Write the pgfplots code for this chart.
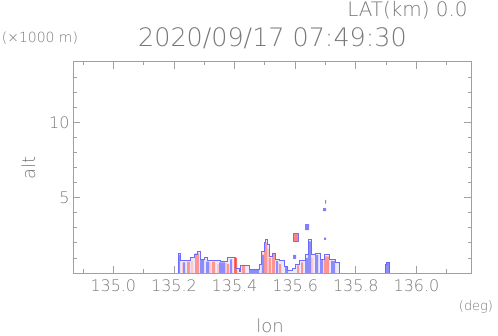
\documentclass[border=0pt]{standalone}
\usepackage{pgfplots}
\pgfplotsset{compat=1.18}
\usepackage{fontspec}
\setmainfont{DejaVu Sans ExtraLight}
\definecolor{txt}{RGB}{120,120,120}
\definecolor{axl}{RGB}{160,160,160}
\begin{document}
\begin{tikzpicture}
\path[use as bounding box] (0bp,0bp) rectangle (498bp,336bp);
\begin{axis}[at={(73bp,63bp)}, anchor=south west, scale only axis,
  width=398bp, height=211bp,
  xmin=134.867, xmax=136.180, ymin=0, ymax=14,
  xtick={135.0,135.2,135.4,135.6,135.8,136.0},
  minor xtick={134.9,135.1,135.3,135.5,135.7,135.9,136.1},
  ytick={5,10},
  minor ytick={1,2,3,4,6,7,8,9,11,12,13},
  xticklabel style={/pgf/number format/fixed, /pgf/number format/fixed zerofill, /pgf/number format/precision=1, yshift=-3bp},
  /pgf/number format/assume math mode=true,
  ticklabel style={font=\fontsize{16}{16}\selectfont, text=txt},
  tick align=inside,
  major tick length=7bp, minor tick length=3.5bp,
  tick style={axl, line width=0.8bp},
  axis line style={axl, line width=1bp},
  clip=true,
]
% envelope fill
\addplot[const plot, fill=blue!8, draw=none] coordinates {
(135.2135,0)(135.2135,1.33)(135.2201,0.8)(135.2531,1.0)(135.2663,1.2)(135.2762,1.45)
(135.2861,0.9)(135.2993,1.0)(135.3092,0.8)(135.3521,0.75)(135.3752,1.0)(135.3851,1.05)
(135.4017,0.33)(135.4149,0.1)(135.4182,0.5)(135.4479,0.22)(135.4809,0.55)(135.4875,1.45)
(135.4974,2.0)(135.5007,2.2)(135.5073,1.9)(135.5139,1.1)(135.5238,1.33)(135.5337,0.9)
(135.5469,0.8)(135.5634,0.45)(135.5733,0.2)(135.5898,0.3)(135.5997,0.55)(135.6129,0.8)
(135.6327,1.2)(135.6426,2.2)(135.6525,1.2)(135.6657,1.3)(135.6822,0.9)(135.6954,1.2)
(135.7119,0.9)(135.7317,0.7)(135.7449,0)} \closedcycle;
% light red stripes
\addplot[const plot, fill=red!22, draw=none] coordinates {
(135.2267,0.7)(135.2300,0)(135.2564,0.8)(135.2630,0)(135.3158,0.7)(135.3224,0)
(135.3422,0.6)(135.3488,0)(135.3686,0.65)(135.3752,0)(135.4875,1.3)(135.4941,0)
(135.5073,1.6)(135.5139,0)(135.5370,0.7)(135.5436,0)(135.6525,1.0)(135.6591,0)
(135.6690,1.1)(135.6756,0)(135.7185,0.8)(135.7251,0)} \closedcycle;
% red columns
\addplot[const plot, fill=red!42, draw=none] coordinates {
(135.2432,0.75)(135.2531,0)(135.2696,1.3)(135.2828,0)(135.3257,0.75)(135.3356,0)
(135.3752,0.6)(135.3818,0)(135.4248,0.45)(135.4347,0)(135.4974,2.0)(135.5073,0)
(135.5139,1.0)(135.5205,0)(135.5238,1.3)(135.5337,0)(135.5469,0.6)(135.5535,0)
(135.6063,0.5)(135.6129,0)(135.6195,0.7)(135.6261,0)(135.6954,1.1)(135.7119,0)} \closedcycle;
\addplot[const plot, fill=red!58, draw=none] coordinates {
(135.3983,1.0)(135.4083,0)} \closedcycle;
% blue columns
\addplot[const plot, fill=blue!45, draw=none] coordinates {
(135.2135,1.2)(135.2201,0)(135.2300,0.7)(135.2366,0)(135.2861,0.85)(135.2993,0)
(135.3059,0.75)(135.3158,0)(135.3488,0.7)(135.3686,0)(135.3851,0.9)(135.3917,0)
(135.4479,0.2)(135.4809,0)(135.4908,1.2)(135.4974,0)(135.5370,0.8)(135.5436,0)
(135.5667,0.4)(135.5766,0)(135.6327,1.0)(135.6426,0)(135.6426,2.1)(135.6525,0)
(135.6657,1.2)(135.6756,0)(135.6822,0.85)(135.6921,0)(135.7185,0.8)(135.7317,0)} \closedcycle;
% envelope outline
\addplot[const plot, draw=blue!58, line width=0.9bp] coordinates {
(135.2135,0)(135.2135,1.33)(135.2201,0.8)(135.2531,1.0)(135.2663,1.2)(135.2762,1.45)
(135.2861,0.9)(135.2993,1.0)(135.3092,0.8)(135.3521,0.75)(135.3752,1.0)(135.3851,1.05)
(135.4017,0.33)(135.4149,0.1)(135.4182,0.5)(135.4479,0.22)(135.4809,0.55)(135.4875,1.45)
(135.4974,2.0)(135.5007,2.2)(135.5073,1.9)(135.5139,1.1)(135.5238,1.33)(135.5337,0.9)
(135.5469,0.8)(135.5634,0.45)(135.5733,0.2)(135.5898,0.3)(135.5997,0.55)(135.6129,0.8)
(135.6327,1.2)(135.6426,2.2)(135.6525,1.2)(135.6657,1.3)(135.6822,0.9)(135.6954,1.2)
(135.7119,0.9)(135.7317,0.7)(135.7449,0)};
% isolated echoes
\addplot[fill=red!50, draw=blue!55, line width=0.8bp] coordinates {(135.5931,2.1)(135.6096,2.1)(135.6096,2.6)(135.5931,2.6)(135.5931,2.1)};
\addplot[fill=blue!50, draw=none] coordinates {(135.5931,0.93)(135.6030,0.93)(135.6030,1.2)(135.5931,1.2)(135.5931,0.93)};
\addplot[fill=blue!50, draw=none] coordinates {(135.6327,2.85)(135.6459,2.85)(135.6459,3.25)(135.6327,3.25)(135.6327,2.85)};
\addplot[fill=blue!50, draw=none] coordinates {(135.6921,4.1)(135.7020,4.1)(135.7020,4.3)(135.6921,4.3)(135.6921,4.1)};
\addplot[fill=blue!50, draw=none] coordinates {(135.6987,4.6)(135.7020,4.6)(135.7020,4.85)(135.6987,4.85)(135.6987,4.6)};
\addplot[fill=blue!50, draw=none] coordinates {(135.6954,2.2)(135.7020,2.2)(135.7020,2.35)(135.6954,2.35)(135.6954,2.2)};
\addplot[const plot, fill=blue!45, draw=blue!60, line width=0.8bp] coordinates {(135.8967,0.55)(135.8999,0.71)(135.9099,0)} \closedcycle;
\end{axis}
\node[text=txt, font=\fontsize{25.5}{25.5}\selectfont] at (272.5bp,297.5bp) {2020/09/17 07:49:30};
\node[text=txt, font=\fontsize{20}{20}\selectfont] at (407.5bp,326bp) {LAT(km) 0.0};
\node[text=txt, font=\fontsize{14}{14}\selectfont] at (40bp,298bp) {(×1000 m)};
\node[text=txt, font=\fontsize{18}{18}\selectfont, rotate=90] at (28.5bp,168bp) {alt};
\node[text=txt, font=\fontsize{18}{18}\selectfont] at (270bp,10bp) {lon};
\node[text=txt, font=\fontsize{13}{13}\selectfont] at (476bp,29bp) {(deg)};
\end{tikzpicture}
\end{document}
